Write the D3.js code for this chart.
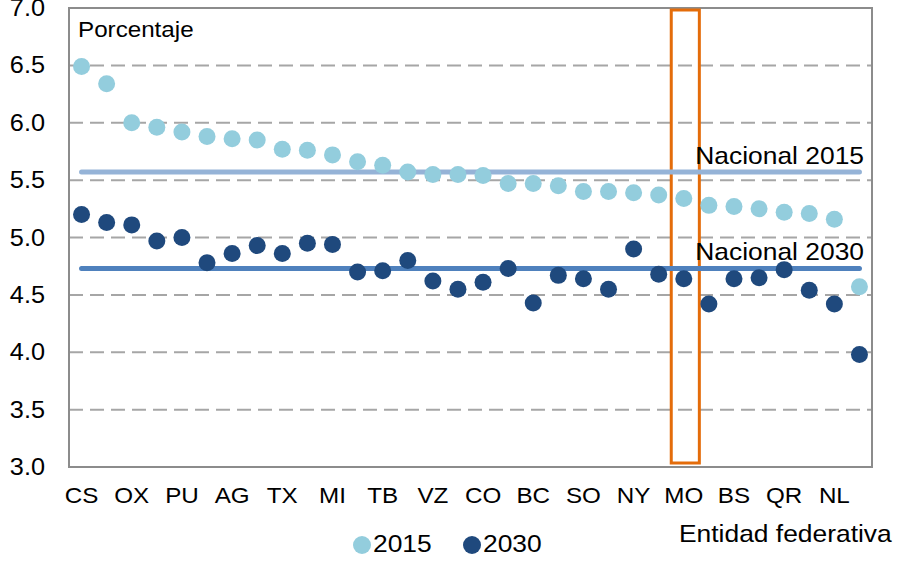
<!DOCTYPE html>
<html>
<head>
<meta charset="utf-8">
<script src="https://cdn.jsdelivr.net/npm/d3@7"></script>
<style>
  body { margin: 0; background: #fff; }
  text { font-family: "Liberation Sans", Arial, sans-serif; fill: #000; }
</style>
</head>
<body>
<div id="chart"></div>
<script>
// 32 entidades, only every other one is labelled on the axis
const tickLabels = ["CS", "OX", "PU", "AG", "TX", "MI", "TB", "VZ",
                    "CO", "BC", "SO", "NY", "MO", "BS", "QR", "NL"];
const yTicks = [3.0, 3.5, 4.0, 4.5, 5.0, 5.5, 6.0, 6.5, 7.0];

const v2015 = [6.49, 6.34, 6.00, 5.96, 5.92, 5.88, 5.86, 5.85, 5.77, 5.76,
               5.72, 5.66, 5.63, 5.57, 5.55, 5.55, 5.54, 5.47, 5.47, 5.45,
               5.40, 5.40, 5.39, 5.37, 5.34, 5.28, 5.27, 5.25, 5.22, 5.21,
               5.16, 4.57];
const v2030 = [5.20, 5.13, 5.11, 4.97, 5.00, 4.78, 4.86, 4.93, 4.86, 4.95,
               4.94, 4.70, 4.71, 4.80, 4.62, 4.55, 4.61, 4.73, 4.43, 4.67,
               4.64, 4.55, 4.90, 4.68, 4.64, 4.42, 4.64, 4.65, 4.72, 4.54,
               4.42, 3.98];
const nacional = [{ label: "Nacional 2015", value: 5.57, color: "#95b3d7" },
                  { label: "Nacional 2030", value: 4.73, color: "#4f81bd" }];
const highlightIndex = 24; // MO

const width = 905, height = 562;
const margin = { top: 8, right: 33, bottom: 95, left: 69 };
const sx = 1.1; // text looks a bit wide in the original

const svg = d3.select("#chart").append("svg")
  .attr("width", width)
  .attr("height", height);

const xScale = d3.scaleBand()
  .domain(d3.range(v2015.length))
  .range([margin.left, width - margin.right]);

const yScale = d3.scaleLinear()
  .domain([3, 7])
  .range([height - margin.bottom, margin.top]);

const cx = (i) => xScale(i) + xScale.bandwidth() / 2;

function label(x, y, txt, size, anchor) {
  return svg.append("text")
    .attr("transform", `translate(${x},${y}) scale(${sx},1)`)
    .attr("font-size", size)
    .attr("text-anchor", anchor || "start")
    .text(txt);
}

// dashed gridlines
svg.append("g")
  .selectAll("line")
  .data(yTicks.filter(d => d > 3 && d < 7))
  .join("line")
    .attr("x1", margin.left)
    .attr("x2", width - margin.right)
    .attr("y1", d => yScale(d))
    .attr("y2", d => yScale(d))
    .attr("stroke", "#a6a6a6")
    .attr("stroke-width", 2)
    .attr("stroke-dasharray", "14,7");

// plot border
svg.append("rect")
  .attr("x", margin.left)
  .attr("y", margin.top)
  .attr("width", width - margin.right - margin.left)
  .attr("height", yScale(3) - yScale(7))
  .attr("fill", "none")
  .attr("stroke", "#8c8c8c")
  .attr("stroke-width", 2);

// y tick labels
yTicks.forEach(d => {
  label(45, yScale(d) + 8, d3.format(".1f")(d), 23, "end");
});

// x tick labels
tickLabels.forEach((t, k) => {
  label(cx(k * 2), 503, t, 22, "middle");
});

// highlight box around MO
svg.append("rect")
  .attr("x", xScale(highlightIndex))
  .attr("y", 10)
  .attr("width", xScale.bandwidth() + 3)
  .attr("height", 453)
  .attr("fill", "none")
  .attr("stroke", "#e46c0a")
  .attr("stroke-width", 3);

// national average lines
svg.append("g")
  .selectAll("line")
  .data(nacional)
  .join("line")
    .attr("x1", cx(0))
    .attr("x2", cx(v2015.length - 1))
    .attr("y1", d => yScale(d.value))
    .attr("y2", d => yScale(d.value))
    .attr("stroke", d => d.color)
    .attr("stroke-width", 5)
    .attr("stroke-linecap", "round");

nacional.forEach(d => {
  label(864, yScale(d.value) - 8, d.label, 24, "end");
});

// points
svg.append("g")
  .selectAll("circle")
  .data(v2015)
  .join("circle")
    .attr("cx", (d, i) => cx(i))
    .attr("cy", d => yScale(d))
    .attr("r", 8.5)
    .attr("fill", "#93cddd");

svg.append("g")
  .selectAll("circle")
  .data(v2030)
  .join("circle")
    .attr("cx", (d, i) => cx(i))
    .attr("cy", d => yScale(d))
    .attr("r", 8.5)
    .attr("fill", "#1f497d");

label(78, 37, "Porcentaje", 22);
label(679, 542, "Entidad federativa", 24);

// legend
svg.append("circle").attr("cx", 362).attr("cy", 545).attr("r", 9).attr("fill", "#93cddd");
label(373, 552, "2015", 24);
svg.append("circle").attr("cx", 472).attr("cy", 545).attr("r", 9).attr("fill", "#1f497d");
label(483, 552, "2030", 24);
</script>
</body>
</html>
